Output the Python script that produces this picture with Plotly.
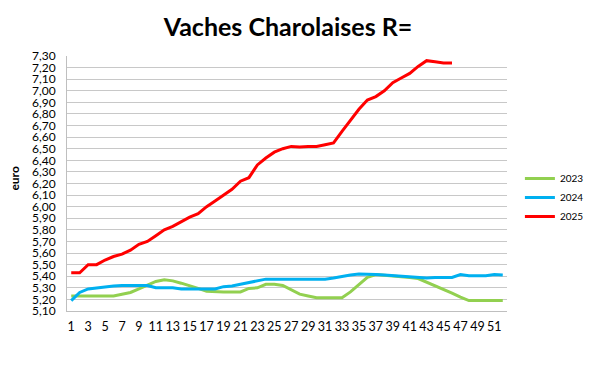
import plotly.graph_objects as go

weeks = list(range(1, 53))

v2023 = [5.23, 5.23, 5.23, 5.235, 5.23, 5.23, 5.245, 5.26, 5.29, 5.32,
         5.355, 5.37, 5.36, 5.34, 5.32, 5.295, 5.27, 5.265, 5.265, 5.265,
         5.265, 5.295, 5.30, 5.33, 5.33, 5.32, 5.28, 5.245, 5.23, 5.215,
         5.215, 5.215, 5.215, 5.265, 5.33, 5.39, 5.415, 5.41, 5.40, 5.395,
         5.39, 5.38, 5.35, 5.315, 5.285, 5.255, 5.22, 5.19, 5.19, 5.19,
         5.19, 5.19]

v2024 = [5.19, 5.26, 5.29, 5.30, 5.31, 5.315, 5.32, 5.32, 5.32, 5.32,
         5.30, 5.30, 5.30, 5.29, 5.29, 5.29, 5.285, 5.29, 5.31, 5.315,
         5.33, 5.345, 5.36, 5.375, 5.375, 5.375, 5.375, 5.375, 5.375, 5.375,
         5.375, 5.385, 5.40, 5.41, 5.42, 5.42, 5.415, 5.41, 5.405, 5.40,
         5.40, 5.39, 5.385, 5.39, 5.39, 5.39, 5.415, 5.405, 5.405, 5.405,
         5.415, 5.41]

v2025 = [5.43, 5.43, 5.50, 5.50, 5.54, 5.57, 5.59, 5.625, 5.675, 5.70,
         5.75, 5.80, 5.83, 5.87, 5.91, 5.94, 6.00, 6.05, 6.10, 6.15,
         6.22, 6.25, 6.36, 6.42, 6.47, 6.50, 6.52, 6.515, 6.52, 6.52,
         6.535, 6.55, 6.65, 6.75, 6.84, 6.92, 6.95, 7.00, 7.07, 7.11,
         7.15, 7.21, 7.26, 7.25, 7.24, 7.24]

series = [("2023", v2023, "#92D050"), ("2024", v2024, "#00B0F0"), ("2025", v2025, "#FF0000")]

y_ticks = [round(5.10 + 0.1 * i, 2) for i in range(23)]
x_ticks = list(range(1, 53, 2))

FONT = "Lato"

fig = go.Figure()
for name, vals, col in series:
    fig.add_trace(go.Scatter(x=weeks[:len(vals)], y=vals, mode="lines", name=name,
                             line=dict(color=col, width=3)))

fig.update_layout(
    width=600, height=365,
    margin=dict(l=67, r=92, t=56, b=54),
    paper_bgcolor="white", plot_bgcolor="white",
    separators=", ",
    font=dict(family=FONT, color="#000000"),
    title=dict(text="<b>Vaches Charolaises R=</b>", x=0.48, xanchor="center",
               y=0.925, yanchor="middle", font=dict(size=25, family=FONT, color="#000")),
    legend=dict(x=1.027, xanchor="left", y=0.445, yanchor="middle",
                font=dict(size=10, family=FONT), bgcolor="rgba(0,0,0,0)",
                tracegroupgap=0),
    xaxis=dict(range=[0.5, 52.5], tickvals=x_ticks, ticktext=[str(t) for t in x_ticks],
               showgrid=False, showline=True, linecolor="#bfbfbf", linewidth=1,
               ticks="", tickfont=dict(size=12.5, family=FONT), zeroline=False,
               tickangle=0, automargin=False, ticklabelstandoff=4),
    yaxis=dict(range=[5.10, 7.30], tickvals=y_ticks, tickformat=".2f",
               showgrid=True, gridcolor="#c8c8c8", gridwidth=1,
               showline=True, linecolor="#bfbfbf", linewidth=1,
               ticks="", tickfont=dict(size=12, family=FONT), zeroline=False,
               automargin=False, ticklabelstandoff=8),
    annotations=[dict(text="<b>euro</b>", textangle=-90, xref="paper", yref="paper",
                      x=-0.12, y=0.52, xanchor="center", yanchor="middle",
                      showarrow=False, font=dict(size=12, family=FONT))],
)

fig.write_html("out.html", config={"displayModeBar": False},
               post_script="document.body.style.margin='0';")
